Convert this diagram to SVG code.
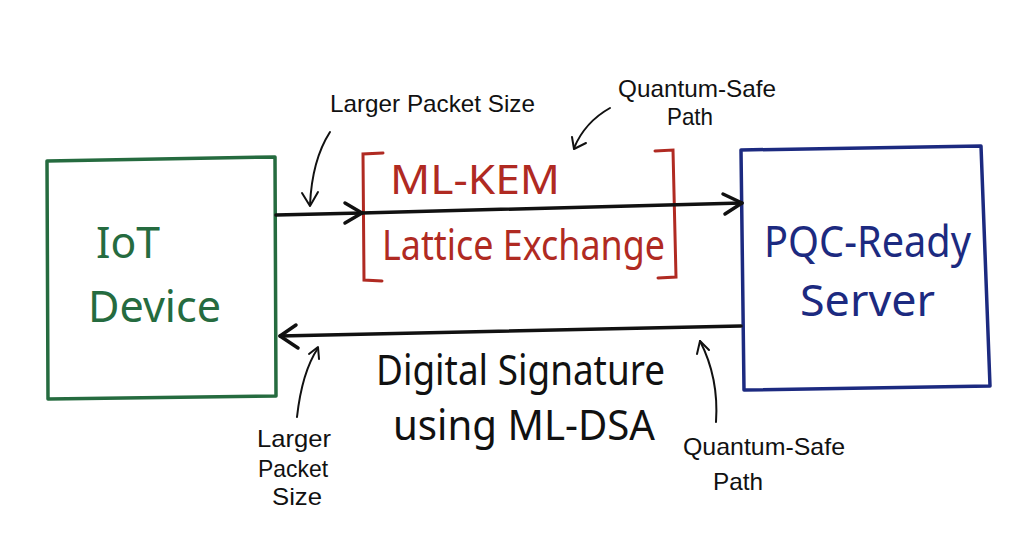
<svg xmlns="http://www.w3.org/2000/svg" width="1024" height="559" viewBox="0 0 1024 559">
<defs>
<style>
.t{font-family:"Noto Sans","Liberation Sans",sans-serif;}
.s{font-family:"Liberation Sans","Noto Sans",sans-serif;}
.big{font-size:44px;}
.sm{font-size:24px;fill:#111;}
.line{fill:none;stroke:#111;stroke-width:3.5;stroke-linecap:round;stroke-linejoin:round;}
.thin{fill:none;stroke:#111;stroke-width:2;stroke-linecap:round;stroke-linejoin:round;}
</style>
</defs>
<rect width="1024" height="559" fill="#ffffff"/>
<g id="iot">
<path d="M47,161 L275,157 L276,396 L48,399 Z" fill="none" stroke="#256b3f" stroke-width="3.5" stroke-linejoin="round"/>
<text class="t big" x="96" y="258" fill="#256b3f" textLength="64" lengthAdjust="spacingAndGlyphs">IoT</text>
<text class="t big" x="88" y="322" fill="#256b3f" textLength="133" lengthAdjust="spacingAndGlyphs">Device</text>
</g>
<g id="server">
<path d="M741,150 L981,146 L990,386 L744,390 Z" fill="none" stroke="#1c2a80" stroke-width="3.5" stroke-linejoin="round"/>
<text class="t big" x="764" y="257" fill="#1c2a80" textLength="207" lengthAdjust="spacingAndGlyphs">PQC-Ready</text>
<text class="t big" x="800" y="316" fill="#1c2a80" textLength="135" lengthAdjust="spacingAndGlyphs">Server</text>
</g>
<g id="mlkem">
<path d="M383,153 L363,154 L364,280 L382,281" fill="none" stroke="#b02a22" stroke-width="3" stroke-linecap="round"/>
<path d="M655,151 L673,150 L676,277 L658,278" fill="none" stroke="#b02a22" stroke-width="3" stroke-linecap="round"/>
<text class="t" x="390" y="194" fill="#b02a22" font-size="40" textLength="170" lengthAdjust="spacingAndGlyphs">ML-KEM</text>
<text class="t" x="382" y="260" fill="#b02a22" font-size="42" textLength="283" lengthAdjust="spacingAndGlyphs">Lattice Exchange</text>
</g>
<g id="connectors">
<path class="line" d="M276,215 L362,213"/>
<path class="line" d="M345,203 L362,213 L345,223"/>
<path class="line" d="M362,213 L742,203"/>
<path class="line" d="M723,194 L742,203 L725,214"/>
<path class="line" d="M741,326 L280,336"/>
<path class="line" d="M296,325 L280,336 L298,348"/>
<path class="thin" d="M330,132 Q312,160 310,205"/>
<path class="thin" d="M302,193 L310,206 L318,192"/>
<path class="thin" d="M610,108 Q585,122 574,148"/>
<path class="thin" d="M572,137 L574,149 L586,143"/>
<path class="thin" d="M297,417 Q302,372 318,348"/>
<path class="thin" d="M309,354 L318,347 L319,359"/>
<path class="thin" d="M716,422 Q719,378 700,341"/>
<path class="thin" d="M697,354 L700,341 L709,350"/>
</g>
<g id="labels">
<text class="s sm" x="330" y="112" textLength="205" lengthAdjust="spacingAndGlyphs">Larger Packet Size</text>
<text class="s sm" x="618" y="97" textLength="158" lengthAdjust="spacingAndGlyphs">Quantum-Safe</text>
<text class="s sm" x="667" y="125" textLength="46" lengthAdjust="spacingAndGlyphs">Path</text>
<text class="s sm" x="257" y="447" textLength="74" lengthAdjust="spacingAndGlyphs">Larger</text>
<text class="s sm" x="258" y="477" textLength="70" lengthAdjust="spacingAndGlyphs">Packet</text>
<text class="s sm" x="272" y="505" textLength="50" lengthAdjust="spacingAndGlyphs">Size</text>
<text class="s sm" x="683" y="455" textLength="162" lengthAdjust="spacingAndGlyphs">Quantum-Safe</text>
<text class="s sm" x="713" y="490" textLength="50" lengthAdjust="spacingAndGlyphs">Path</text>
<text class="t" x="376" y="385" font-size="42" fill="#111" textLength="289" lengthAdjust="spacingAndGlyphs">Digital Signature</text>
<text class="t" x="393" y="440" font-size="42" fill="#111" textLength="262" lengthAdjust="spacingAndGlyphs">using ML-DSA</text>
</g>
</svg>
